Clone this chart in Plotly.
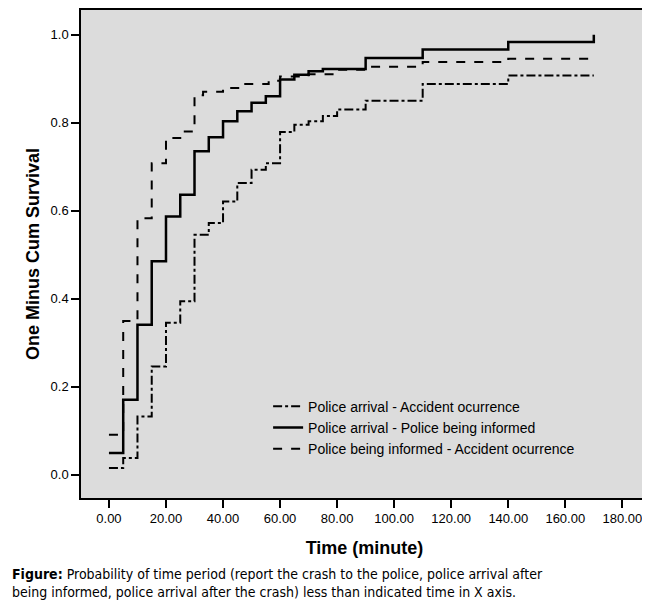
import plotly.graph_objects as go

# Step times (minutes) and one-minus-cum-survival values
arr_acc_t = [0, 5, 10, 15, 20, 25, 30, 35, 40, 45, 50, 55, 60, 65, 70, 75, 80, 90, 110, 140, 170]
arr_acc_y = [0.015, 0.038, 0.132, 0.246, 0.345, 0.394, 0.545, 0.572, 0.621, 0.663, 0.693, 0.708,
             0.779, 0.795, 0.803, 0.815, 0.830, 0.850, 0.888, 0.907, 0.907]

arr_inf_t = [0, 5, 10, 15, 20, 25, 30, 35, 40, 45, 50, 55, 60, 65, 70, 75, 90, 110, 140, 170]
arr_inf_y = [0.049, 0.170, 0.341, 0.485, 0.587, 0.636, 0.735, 0.767, 0.803, 0.826, 0.845, 0.860,
             0.898, 0.909, 0.917, 0.922, 0.947, 0.966, 0.983, 1.0]

inf_acc_t = [0, 5, 10, 15, 20, 25, 30, 33, 40, 46, 56, 60, 70, 80, 90, 110, 140, 170]
inf_acc_y = [0.091, 0.349, 0.583, 0.708, 0.765, 0.780, 0.862, 0.870, 0.879, 0.888, 0.895, 0.905,
             0.910, 0.920, 0.927, 0.938, 0.945, 0.945]

x_ticks = [0, 20, 40, 60, 80, 100, 120, 140, 160, 180]
y_ticks = [0.0, 0.2, 0.4, 0.6, 0.8, 1.0]

fig = go.Figure()
fig.add_trace(go.Scatter(x=arr_acc_t, y=arr_acc_y, mode='lines', line_shape='hv',
                         name='Police arrival - Accident ocurrence',
                         line=dict(color='black', width=2, dash='dashdot')))
fig.add_trace(go.Scatter(x=arr_inf_t, y=arr_inf_y, mode='lines', line_shape='hv',
                         name='Police arrival - Police being informed',
                         line=dict(color='black', width=2.5)))
fig.add_trace(go.Scatter(x=inf_acc_t, y=inf_acc_y, mode='lines', line_shape='hv',
                         name='Police being informed - Accident ocurrence',
                         line=dict(color='black', width=2, dash='dash')))

axis_font = dict(family='Liberation Sans, Arial', size=13, color='black')
fig.update_layout(
    width=650, height=603,
    margin=dict(l=73, r=10, t=2, b=113, autoexpand=False),
    plot_bgcolor='#dcdcdc', paper_bgcolor='white',
    showlegend=True,
    legend=dict(x=0.33, y=0.22, xanchor='left', yanchor='top', bgcolor='rgba(0,0,0,0)',
                font=dict(family='Liberation Sans, Arial', size=14, color='black'),
                itemwidth=30, tracegroupgap=0),
    xaxis=dict(range=[-9.8, 189], tickvals=x_ticks, tickformat='.2f', ticks='outside',
               ticklen=8, tickwidth=1.5, tickcolor='black', showgrid=False, zeroline=False,
               showline=True, linecolor='black', linewidth=1.5, mirror=True, tickfont=axis_font,
               automargin=False,
               title=dict(text='<b>Time (minute)</b>', font=dict(family='Liberation Sans, Arial', size=18, color='black'), standoff=16)),
    yaxis=dict(range=[-0.053, 1.056], tickvals=y_ticks, tickformat='.1f', ticks='outside',
               ticklen=8, tickwidth=1.5, tickcolor='black', showgrid=False, zeroline=False,
               showline=True, linecolor='black', linewidth=1.5, mirror=True, tickfont=axis_font,
               automargin=False,
               title=dict(text='<b>One Minus Cum Survival</b>', font=dict(family='Liberation Sans, Arial', size=18, color='black'), standoff=6)),
)

fig.add_annotation(xref='paper', yref='paper', x=-0.125, y=-0.135, xanchor='left', yanchor='top',
                   align='left', showarrow=False,
                   text='<b>Figure:</b> Probability of time period (report the crash to the police, police arrival after<br>'
                        'being informed, police arrival after the crash) less than indicated time in X axis.',
                   font=dict(family='DejaVu Sans Condensed, Liberation Sans Narrow', size=14, color='black'))

fig.write_html("out.html")
